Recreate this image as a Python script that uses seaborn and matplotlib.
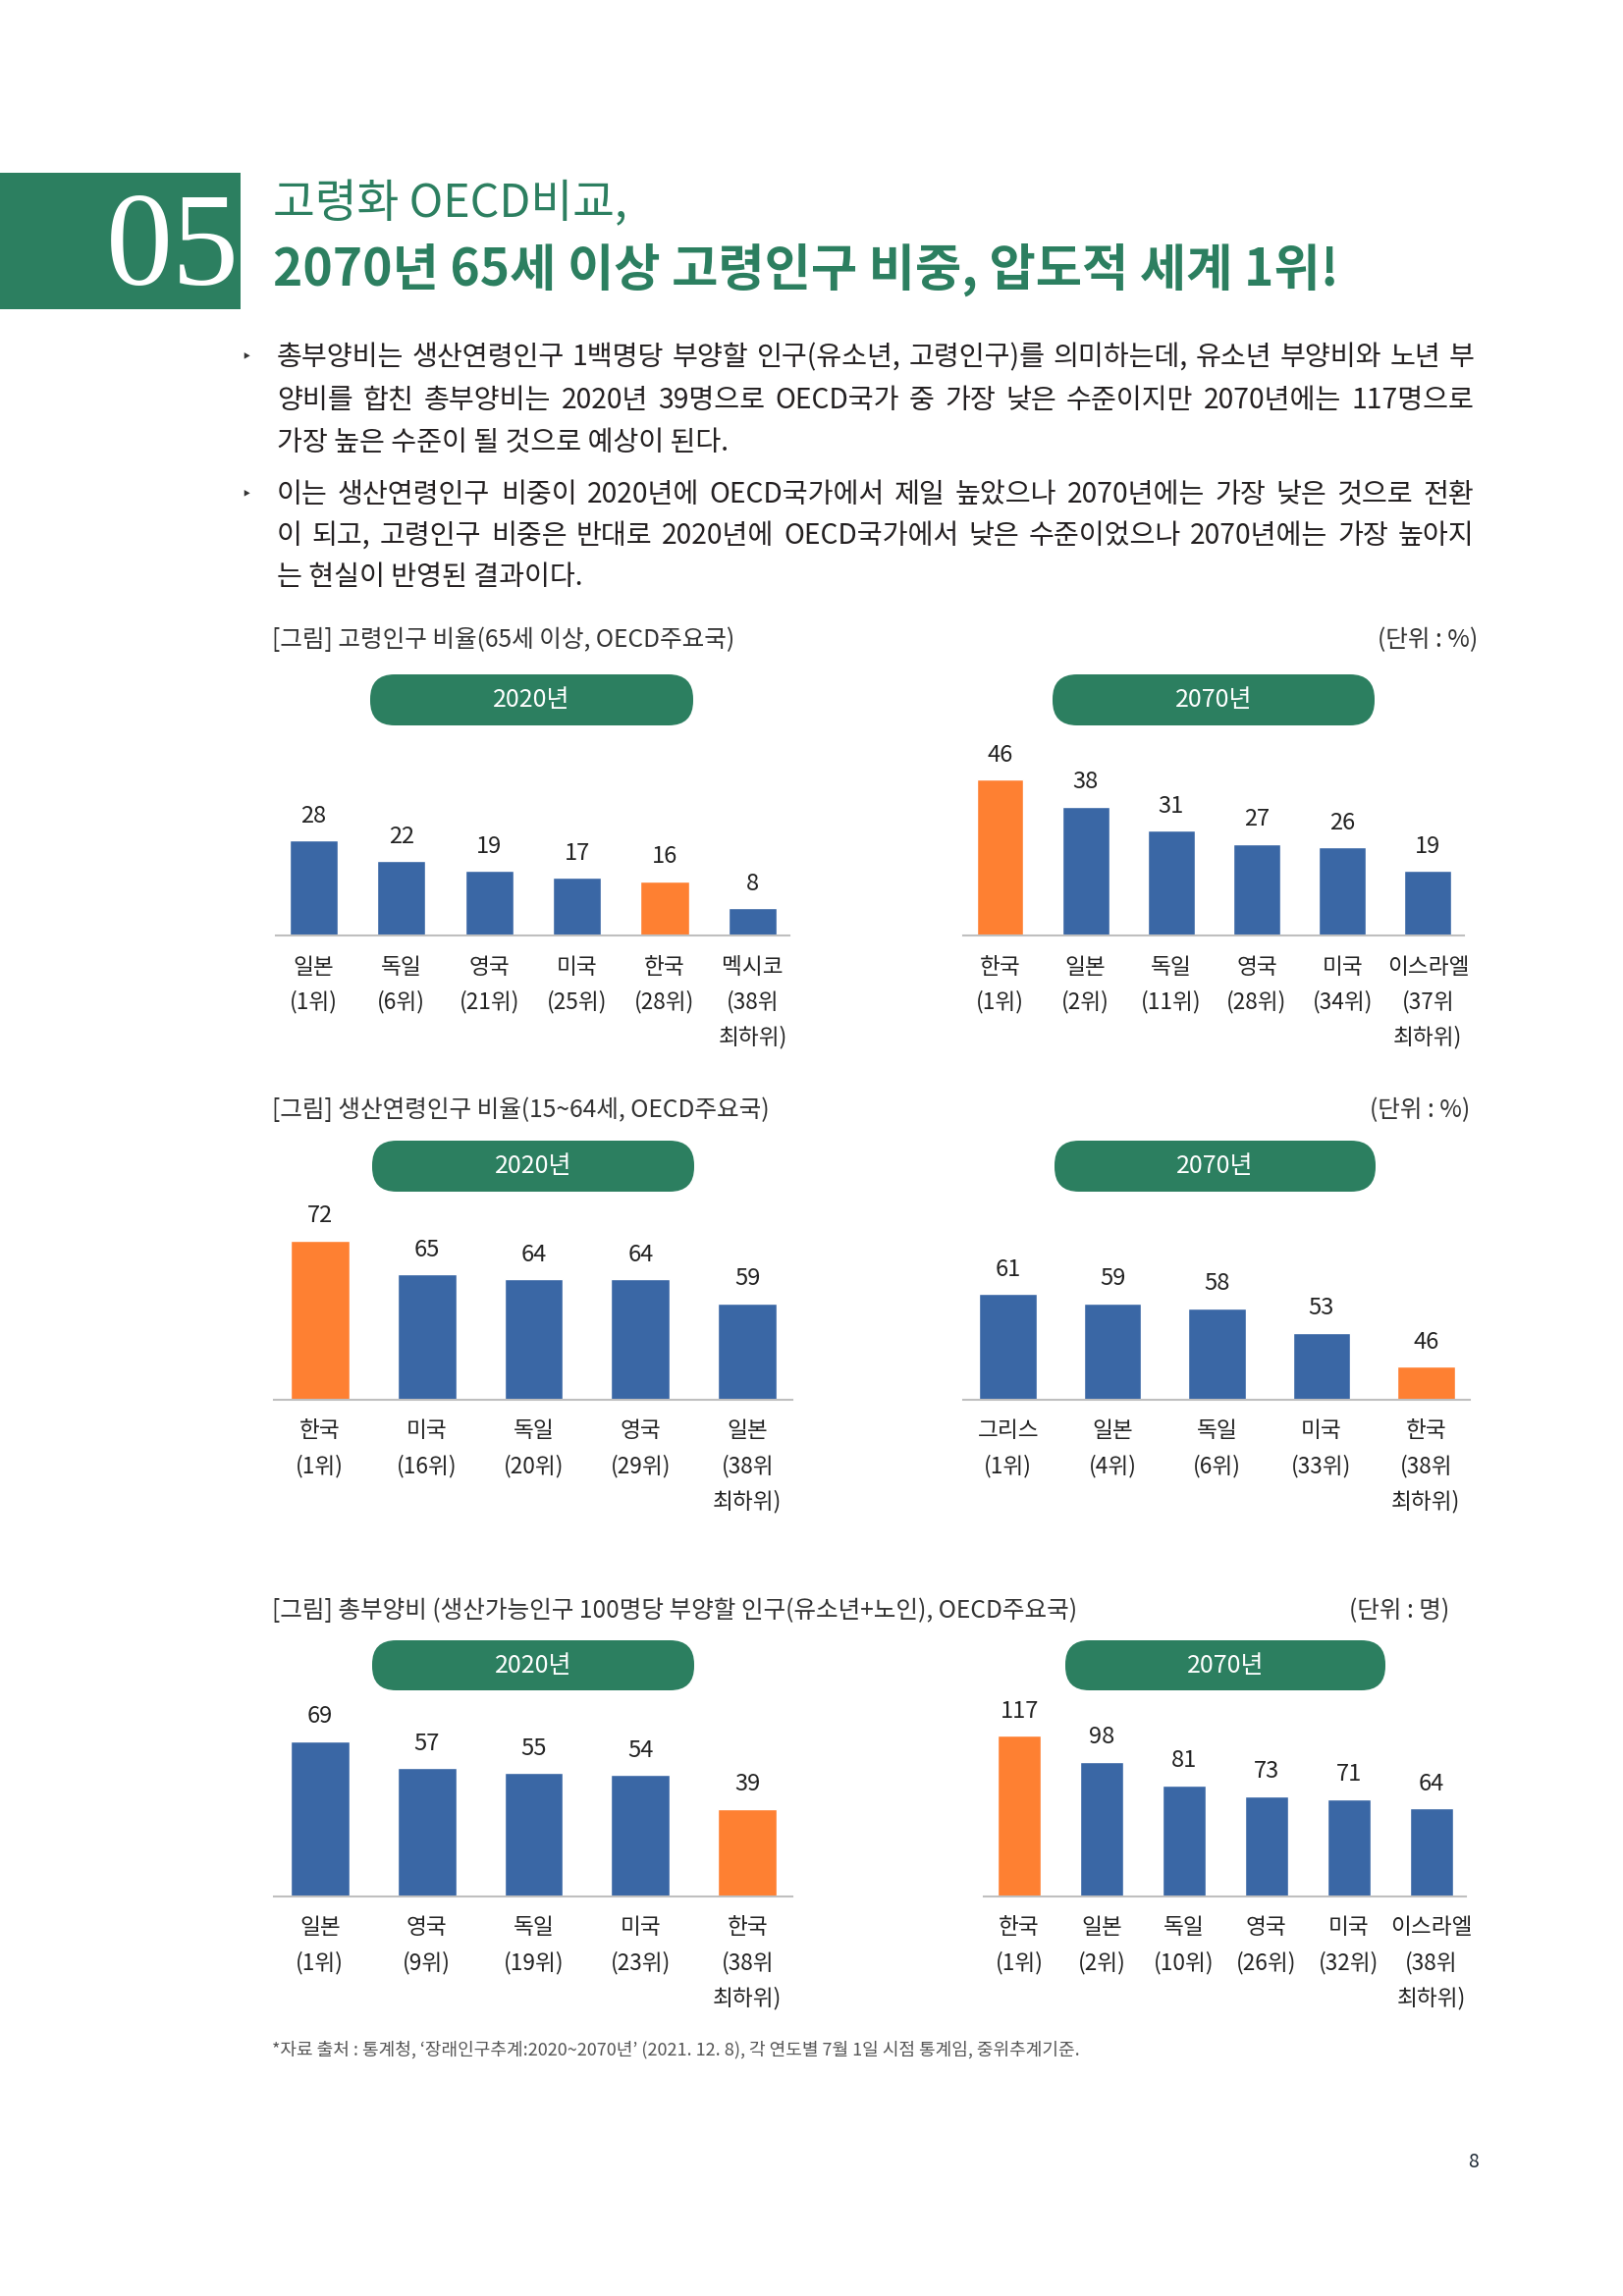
import matplotlib
matplotlib.use("Agg")
import matplotlib.pyplot as plt
from matplotlib.patches import FancyBboxPatch, Rectangle
import pandas as pd
import seaborn as sns

sns.set_style("white")
plt.rcParams["font.family"] = ["Noto Sans CJK KR", "DejaVu Sans"]

W, H = 1653, 2339
GREEN = "#2C7F60"
BLUE = "#3A67A5"
ORANGE = "#FE8032"
TEXT = "#231F20"

# ---- data ----
old_2020_cats = ["일본", "독일", "영국", "미국", "한국", "멕시코"]
old_2020_vals = [28, 22, 19, 17, 16, 8]
old_2020_rank = ["(1위)", "(6위)", "(21위)", "(25위)", "(28위)", "(38위\n최하위)"]

old_2070_cats = ["한국", "일본", "독일", "영국", "미국", "이스라엘"]
old_2070_vals = [46, 38, 31, 27, 26, 19]
old_2070_rank = ["(1위)", "(2위)", "(11위)", "(28위)", "(34위)", "(37위\n최하위)"]

work_2020_cats = ["한국", "미국", "독일", "영국", "일본"]
work_2020_vals = [72, 65, 64, 64, 59]
work_2020_rank = ["(1위)", "(16위)", "(20위)", "(29위)", "(38위\n최하위)"]

work_2070_cats = ["그리스", "일본", "독일", "미국", "한국"]
work_2070_vals = [61, 59, 58, 53, 46]
work_2070_rank = ["(1위)", "(4위)", "(6위)", "(33위)", "(38위\n최하위)"]

dep_2020_cats = ["일본", "영국", "독일", "미국", "한국"]
dep_2020_vals = [69, 57, 55, 54, 39]
dep_2020_rank = ["(1위)", "(9위)", "(19위)", "(23위)", "(38위\n최하위)"]

dep_2070_cats = ["한국", "일본", "독일", "영국", "미국", "이스라엘"]
dep_2070_vals = [117, 98, 81, 73, 71, 64]
dep_2070_rank = ["(1위)", "(2위)", "(10위)", "(26위)", "(32위)", "(38위\n최하위)"]

chart_titles = [
    "[그림] 고령인구 비율(65세 이상, OECD주요국)",
    "[그림] 생산연령인구 비율(15~64세, OECD주요국)",
    "[그림] 총부양비 (생산가능인구 100명당 부양할 인구(유소년+노인), OECD주요국)",
]
unit_labels = ["(단위 : %)", "(단위 : %)", "(단위 : 명)"]

bullet_lines = [
    ["총부양비는 생산연령인구 1백명당 부양할 인구(유소년, 고령인구)를 의미하는데, 유소년 부양비와 노년 부",
     "양비를 합친 총부양비는 2020년 39명으로 OECD국가 중 가장 낮은 수준이지만 2070년에는 117명으로",
     "가장 높은 수준이 될 것으로 예상이 된다."],
    ["이는 생산연령인구 비중이 2020년에 OECD국가에서 제일 높았으나 2070년에는 가장 낮은 것으로 전환",
     "이 되고, 고령인구 비중은 반대로 2020년에 OECD국가에서 낮은 수준이었으나 2070년에는 가장 높아지",
     "는 현실이 반영된 결과이다."],
]

footnote = "*자료 출처 : 통계청, ‘장래인구추계:2020~2070년’ (2021. 12. 8), 각 연도별 7월 1일 시점 통계임, 중위추계기준."

fig = plt.figure(figsize=(W / 100, H / 100), dpi=100)
page = fig.add_axes([0, 0, 1, 1])
page.set_xlim(0, W)
page.set_ylim(H, 0)
page.axis("off")
renderer = fig.canvas.get_renderer()


def put_line(x0, x1, y, s, justify, **kw):
    if not justify:
        page.text(x0, y, s, ha="left", va="center", **kw)
        return
    words = s.split(" ")
    widths = []
    for w in words:
        t = page.text(0, 0, w, **kw)
        widths.append(t.get_window_extent(renderer).width)
        t.remove()
    gap = (x1 - x0 - sum(widths)) / (len(words) - 1)
    x = x0
    for w, wd in zip(words, widths):
        page.text(x, y, w, ha="left", va="center", **kw)
        x += wd + gap


# header
page.add_patch(Rectangle((0, 176), 245, 139, color=GREEN, lw=0))
page.text(176, 290, "05", family="Liberation Serif", fontsize=98, color="white",
          ha="center", va="baseline")
page.text(278, 208, "고령화 OECD비교,", fontsize=33.5, color=GREEN, fontweight="light", va="center")
page.text(278, 275, "2070년 65세 이상 고령인구 비중, 압도적 세계 1위!", fontsize=37,
          color=GREEN, fontweight="bold", va="center")

# bullets
line_y = [[364, 408, 451], [504, 546, 588]]
for para, ys in zip(bullet_lines, line_y):
    page.text(251, ys[0], "‣", family="DejaVu Sans", fontsize=13, color="#333333",
              ha="center", va="center")
    for k, (s, y) in enumerate(zip(para, ys)):
        put_line(282, 1501, y, s, k < 2, fontsize=20.3, color=TEXT)


def pill(x0, x1, y0, y1, label):
    h = y1 - y0
    page.add_patch(FancyBboxPatch((x0, y0), x1 - x0, h,
                                  boxstyle=f"round,pad=0,rounding_size={h * 0.48}",
                                  fc=GREEN, ec="none"))
    page.text((x0 + x1) / 2, (y0 + y1) / 2, label, color="white", fontsize=18,
              ha="center", va="center")


def bar_chart(x0, x1, base, cats, vals, ranks, px_unit, ymin=0, width=0.55):
    hpx = 215
    ax = fig.add_axes([x0 / W, 1 - base / H, (x1 - x0) / W, hpx / H])
    df = pd.DataFrame({"국가": cats, "값": vals})
    pal = {c: (ORANGE if c == "한국" else BLUE) for c in cats}
    sns.barplot(data=df, x="국가", y="값", hue="국가", palette=pal, width=width,
                saturation=1, legend=False, ax=ax)
    n = len(cats)
    ax.set_xlim(-0.43, n - 1 + 0.42)
    ax.set_ylim(ymin, ymin + hpx / px_unit)
    ax.set_facecolor("none")
    ax.set_xticks([])
    ax.set_yticks([])
    ax.set_xlabel("")
    ax.set_ylabel("")
    sns.despine(ax=ax, left=True)
    ax.spines["bottom"].set_color("#BFBFBF")
    ax.spines["bottom"].set_linewidth(1.5)
    for i, v in enumerate(vals):
        ax.annotate(str(v), xy=(i, v), xytext=(0, 18), textcoords="offset points",
                    ha="center", va="center", fontsize=17, color="#222222")
    for i, (c, r) in enumerate(zip(cats, ranks)):
        for k, line in enumerate([c] + r.split("\n")):
            ax.annotate(line, xy=(i, 0), xycoords=("data", "axes fraction"),
                        xytext=(0, -(32 + 36 * k) * 0.72), textcoords="offset points",
                        ha="center", va="center", fontsize=16.3, color="#222222",
                        annotation_clip=False)
    return ax


# section titles / pills
title_y = [652, 1131, 1641]
unit_x = [1505, 1497, 1476]
for t, u, y, ux in zip(chart_titles, unit_labels, title_y, unit_x):
    page.text(277, y, t, fontsize=17.7, color="#333333", va="center")
    page.text(ux, y, u, fontsize=17.7, color="#333333", va="center", ha="right")

pill(377, 706, 687, 739, "2020년")
pill(1072, 1400, 687, 739, "2070년")
pill(379, 707, 1162, 1214, "2020년")
pill(1074, 1401, 1162, 1214, "2070년")
pill(379, 707, 1671, 1722, "2020년")
pill(1085, 1411, 1671, 1722, "2070년")

bar_chart(281, 804, 953, old_2020_cats, old_2020_vals, old_2020_rank, 3.45)
bar_chart(981, 1491, 953, old_2070_cats, old_2070_vals, old_2070_rank, 3.45)
bar_chart(279, 807, 1426, work_2020_cats, work_2020_vals, work_2020_rank, 4.95, ymin=39.2)
bar_chart(981, 1497, 1426, work_2070_cats, work_2070_vals, work_2070_rank, 4.95, ymin=39.2)
bar_chart(279, 807, 1932, dep_2020_cats, dep_2020_vals, dep_2020_rank, 2.29)
bar_chart(1002, 1493, 1932, dep_2070_cats, dep_2070_vals, dep_2070_rank, 1.40, width=0.52)

page.text(277, 2088, footnote, fontsize=13, color="#555555", va="center")
page.text(1501, 2202, "8", fontsize=14, color="#1F2A36", ha="center", va="center")

fig.savefig("out.png", dpi=100)
